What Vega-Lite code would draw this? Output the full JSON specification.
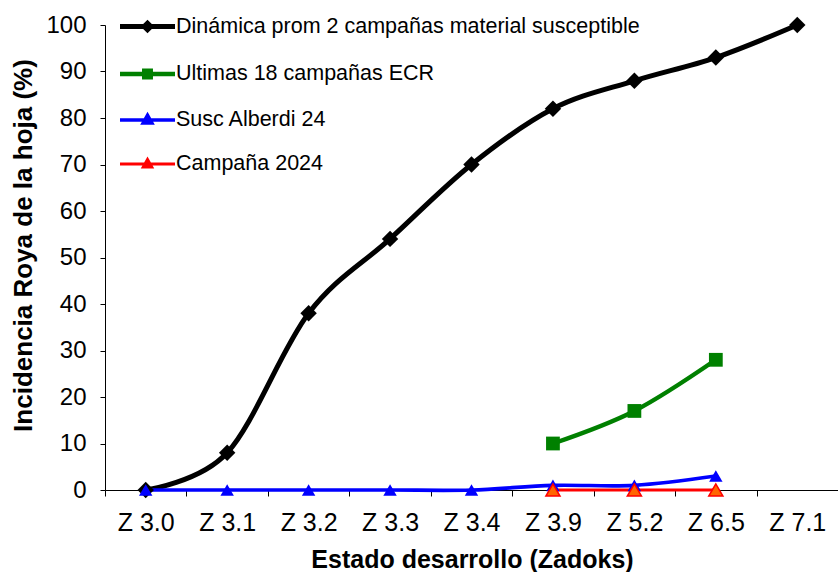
{
  "$schema": "https://vega.github.io/schema/vega-lite/v6.json",
  "width": 733,
  "height": 465,
  "autosize": {"type": "none"},
  "padding": {"left": 105, "top": 25, "right": 0, "bottom": 82},
  "background": "white",
  "config": {
    "font": "Liberation Sans",
    "view": {"stroke": null},
    "axis": {
      "domainColor": "black",
      "domainWidth": 1,
      "tickColor": "black",
      "tickWidth": 1,
      "labelColor": "black",
      "titleColor": "black",
      "grid": false,
      "labelFont": "Liberation Sans",
      "titleFont": "Liberation Sans"
    }
  },
  "data": {
    "values": [
      {"serie": "Dinámica prom 2 campañas material susceptible", "z": "Z 3.0", "v": 0},
      {"serie": "Dinámica prom 2 campañas material susceptible", "z": "Z 3.1", "v": 8},
      {"serie": "Dinámica prom 2 campañas material susceptible", "z": "Z 3.2", "v": 38},
      {"serie": "Dinámica prom 2 campañas material susceptible", "z": "Z 3.3", "v": 54},
      {"serie": "Dinámica prom 2 campañas material susceptible", "z": "Z 3.4", "v": 70},
      {"serie": "Dinámica prom 2 campañas material susceptible", "z": "Z 3.9", "v": 82},
      {"serie": "Dinámica prom 2 campañas material susceptible", "z": "Z 5.2", "v": 88},
      {"serie": "Dinámica prom 2 campañas material susceptible", "z": "Z 6.5", "v": 93},
      {"serie": "Dinámica prom 2 campañas material susceptible", "z": "Z 7.1", "v": 100},
      {"serie": "Ultimas 18 campañas ECR", "z": "Z 3.9", "v": 10},
      {"serie": "Ultimas 18 campañas ECR", "z": "Z 5.2", "v": 17},
      {"serie": "Ultimas 18 campañas ECR", "z": "Z 6.5", "v": 28},
      {"serie": "Susc  Alberdi 24", "z": "Z 3.0", "v": 0},
      {"serie": "Susc  Alberdi 24", "z": "Z 3.1", "v": 0},
      {"serie": "Susc  Alberdi 24", "z": "Z 3.2", "v": 0},
      {"serie": "Susc  Alberdi 24", "z": "Z 3.3", "v": 0},
      {"serie": "Susc  Alberdi 24", "z": "Z 3.4", "v": 0},
      {"serie": "Susc  Alberdi 24", "z": "Z 3.9", "v": 1},
      {"serie": "Susc  Alberdi 24", "z": "Z 5.2", "v": 1},
      {"serie": "Susc  Alberdi 24", "z": "Z 6.5", "v": 3},
      {"serie": "Campaña 2024", "z": "Z 3.9", "v": 0},
      {"serie": "Campaña 2024", "z": "Z 5.2", "v": 0},
      {"serie": "Campaña 2024", "z": "Z 6.5", "v": 0}
    ]
  },
  "encoding": {
    "x": {
      "field": "z",
      "type": "nominal",
      "scale": {
        "type": "band",
        "paddingInner": 0,
        "paddingOuter": 0,
        "domain": ["Z 3.0", "Z 3.1", "Z 3.2", "Z 3.3", "Z 3.4", "Z 3.9", "Z 5.2", "Z 6.5", "Z 7.1"]
      },
      "axis": {
        "title": "Estado desarrollo (Zadoks)",
        "labelAngle": 0,
        "labelFontSize": 25,
        "tickBand": "extent",
        "tickSize": 6,
        "labelPadding": 14,
        "titleFontSize": 25,
        "titleFontWeight": "bold",
        "titleBaseline": "alphabetic",
        "titleY": 77,
        "titleX": 367
      }
    },
    "y": {
      "field": "v",
      "type": "quantitative",
      "scale": {"domain": [0, 100], "nice": false},
      "axis": {
        "title": "Incidencia Roya de la hoja (%)",
        "values": [0, 10, 20, 30, 40, 50, 60, 70, 80, 90, 100],
        "labelFontSize": 24,
        "tickSize": 5,
        "labelPadding": 14,
        "titleFontSize": 26,
        "titleFontWeight": "bold",
        "titleAngle": 270,
        "titleBaseline": "alphabetic",
        "titleAlign": "center",
        "titleX": -74,
        "titleY": 220
      }
    }
  },
  "layer": [
    {
      "mark": {"type": "line", "interpolate": "cardinal"},
      "encoding": {
        "color": {
          "field": "serie",
          "type": "nominal",
          "scale": {
            "domain": ["Dinámica prom 2 campañas material susceptible", "Ultimas 18 campañas ECR", "Susc  Alberdi 24", "Campaña 2024"],
            "range": ["#000000", "#008000", "#0000FF", "#FF0000"]
          },
          "legend": {
            "title": null,
            "orient": "none",
            "legendX": 30,
            "legendY": -11,
            "padding": 0,
            "labelFontSize": 21.5,
            "labelColor": "black",
            "labelFont": "Liberation Sans",
            "labelLimit": 1000,
            "symbolSize": 400,
            "labelOffset": 16,
            "rowPadding": 21.5,
            "encode": {
              "symbols": {
                "update": {
                  "shape": {"signal": "['M-2.75,0H2.75M0,-0.33L0.33,0L0,0.33L-0.33,0Z','M-2.75,0H2.75M-0.33,-0.33H0.33V0.33H-0.33Z','M-2.75,0H2.75M0,-0.45L0.42,0.3H-0.42Z','M-2.75,0H2.75M0,-0.45L0.42,0.3H-0.42Z'][indexof('DUSC', substring(datum.value,0,1))]"},
                  "fill": {"signal": "['#000000','#008000','#0000FF','#FF6600'][indexof('DUSC', substring(datum.value,0,1))]"},
                  "stroke": {"signal": "['#000000','#008000','#0000FF','#FF0000'][indexof('DUSC', substring(datum.value,0,1))]"},
                  "strokeWidth": {"signal": "indexof('DUSC', substring(datum.value,0,1)) == 0 ? 5 : 2.5"},
                  "opacity": {"value": 1}
                }
              }
            }
          }
        },
        "strokeWidth": {
          "field": "serie",
          "type": "nominal",
          "scale": {
            "domain": ["Dinámica prom 2 campañas material susceptible", "Ultimas 18 campañas ECR", "Susc  Alberdi 24", "Campaña 2024"],
            "range": [5, 3, 3, 3]
          },
          "legend": null
        }
      }
    },
    {
      "transform": [{"filter": "datum.serie == 'Dinámica prom 2 campañas material susceptible'"}],
      "mark": {"type": "point", "filled": true, "shape": "diamond", "size": 270, "color": "#000000", "opacity": 1}
    },
    {
      "transform": [{"filter": "datum.serie == 'Ultimas 18 campañas ECR'"}],
      "mark": {"type": "point", "filled": true, "shape": "square", "size": 190, "color": "#008000", "opacity": 1}
    },
    {
      "transform": [{"filter": "datum.serie == 'Susc  Alberdi 24'"}],
      "mark": {"type": "point", "filled": true, "shape": "triangle-up", "size": 180, "color": "#0000FF", "opacity": 1}
    },
    {
      "transform": [{"filter": "datum.serie == 'Campaña 2024'"}],
      "mark": {"type": "point", "filled": true, "shape": "triangle-up", "size": 200, "fill": "#FF6600", "stroke": "#FF0000", "strokeWidth": 1.5, "opacity": 1}
    }
  ]
}
